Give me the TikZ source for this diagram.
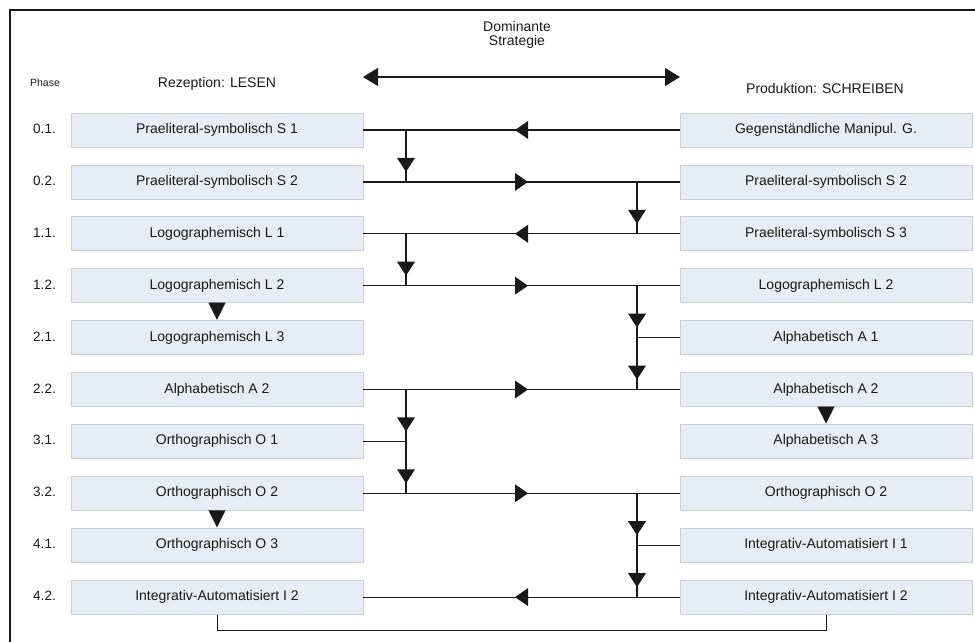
\documentclass[tikz,border=0pt]{standalone}
\usepackage{fontspec}
\setmainfont{Liberation Sans}
\usetikzlibrary{arrows.meta,decorations.markings}

\definecolor{boxfill}{RGB}{231,236,246}
\definecolor{boxline}{RGB}{200,206,218}
\definecolor{ink}{RGB}{25,25,25}

\begin{document}
\begin{tikzpicture}[x=1pt,y=-1pt,
  every node/.style={text=ink},
  stage/.style={draw=boxline, fill=boxfill, line width=0.8pt,
    minimum width=292pt, minimum height=34pt, inner sep=0pt,
    text height=10pt, text depth=3pt, font=\fontsize{14pt}{17pt}\selectfont},
  phaselabel/.style={inner sep=0pt, text height=10pt, text depth=3pt,
    font=\fontsize{13.5pt}{16pt}\selectfont},
  heading/.style={inner sep=0pt, anchor=base, font=\fontsize{14pt}{17pt}\selectfont},
  link/.style={draw=ink, line width=1.2pt},
  % arrow head in the middle of a horizontal link
  midtip/.style={postaction={decorate}, decoration={markings,
    mark=at position 0.5 with {\fill[ink] (6.5pt,0pt) -- (-6.5pt,9pt) -- (-6.5pt,-9pt) -- cycle;}}},
  % arrow head shortly before the end of a vertical link
  endtip/.style={postaction={decorate}, decoration={markings,
    mark=at position -10pt with {\fill[ink] (0pt,0pt) -- (-14pt,9pt) -- (-14pt,-9pt) -- cycle;}}},
  % arrow head filling the gap between two stacked boxes
  drop/.style={draw=ink, line width=0.1pt, -{Triangle[length=17pt,width=17pt]}, shorten >=0.5pt},
]
\useasboundingbox (0,0) rectangle (975,642);

% frame
\draw[line width=1.5pt, draw=ink] (10,642) -- (10,10) -- (975,10);

% headings
\node[heading] (dom) at (517,31.5) {Dominante};
\node[heading] (strat) at (517,46) {Strategie};
\node[heading, font=\fontsize{10.5pt}{12pt}\selectfont] (phase) at (45,87) {Phase};
\node[heading] (lesen) at (217,88) {Rezeption: LESEN};
\node[heading] (schreiben) at (825,93) {Produktion: SCHREIBEN};

\coordinate (sl) at (363,77);
\coordinate (sr) at (680,77);
\draw[link, {Triangle[length=15pt,width=18pt]}-{Triangle[length=15pt,width=18pt]}] (sl) -- (sr);

% stages
\foreach \i/\p/\l/\r in {
  0/0.1./Praeliteral-symbolisch S 1/Gegenständliche Manipul. G.,
  1/0.2./Praeliteral-symbolisch S 2/Praeliteral-symbolisch S 2,
  2/1.1./Logographemisch L 1/Praeliteral-symbolisch S 3,
  3/1.2./Logographemisch L 2/Logographemisch L 2,
  4/2.1./Logographemisch L 3/Alphabetisch A 1,
  5/2.2./Alphabetisch A 2/Alphabetisch A 2,
  6/3.1./Orthographisch O 1/Alphabetisch A 3,
  7/3.2./Orthographisch O 2/Orthographisch O 2,
  8/4.1./Orthographisch O 3/Integrativ-Automatisiert I 1,
  9/4.2./Integrativ-Automatisiert I 2/Integrativ-Automatisiert I 2}{
  \node[phaselabel] (P\i) at (44.5,{130+51.9*\i}) {\p};
  \node[stage] (L\i) at (217,{130+51.9*\i}) {\l};
  \node[stage] (R\i) at (826,{130+51.9*\i}) {\r};
}

% junction columns
\coordinate (jl) at (406,0);
\coordinate (jr) at (637,0);
\coordinate (base) at (0,630);

% horizontal links
\draw[link, midtip] (R0) -- (L0);
\draw[link, midtip] (L1) -- (R1);
\draw[link, midtip] (R2) -- (L2);
\draw[link, midtip] (L3) -- (R3);
\draw[link, midtip] (L5) -- (R5);
\draw[link, midtip] (L7) -- (R7);
\draw[link, midtip] (R9) -- (L9);

% vertical links, left column
\draw[link, endtip] (jl |- L0.east) -- (jl |- L1.east);
\draw[link, endtip] (jl |- L2.east) -- (jl |- L3.east);
\draw[link, endtip] (jl |- L5.east) -- (jl |- L6.east);
\draw[link] (L6.east) -- (jl |- L6.east);
\draw[link, endtip] (jl |- L6.east) -- (jl |- L7.east);

% vertical links, right column
\draw[link, endtip] (jr |- R1.west) -- (jr |- R2.west);
\draw[link, endtip] (jr |- R3.west) -- (jr |- R4.west);
\draw[link] (R4.west) -- (jr |- R4.west);
\draw[link, endtip] (jr |- R4.west) -- (jr |- R5.west);
\draw[link, endtip] (jr |- R7.west) -- (jr |- R8.west);
\draw[link] (R8.west) -- (jr |- R8.west);
\draw[link, endtip] (jr |- R8.west) -- (jr |- R9.west);

% steps within one column
\draw[drop] (L3.south) -- (L4.north);
\draw[drop] (R5.south) -- (R6.north);
\draw[drop] (L7.south) -- (L8.north);

% closing bracket below the last phase
\draw[link, line width=1pt] (L9.south) |- (R9.south |- base) -- (R9.south);
\end{tikzpicture}
\end{document}
